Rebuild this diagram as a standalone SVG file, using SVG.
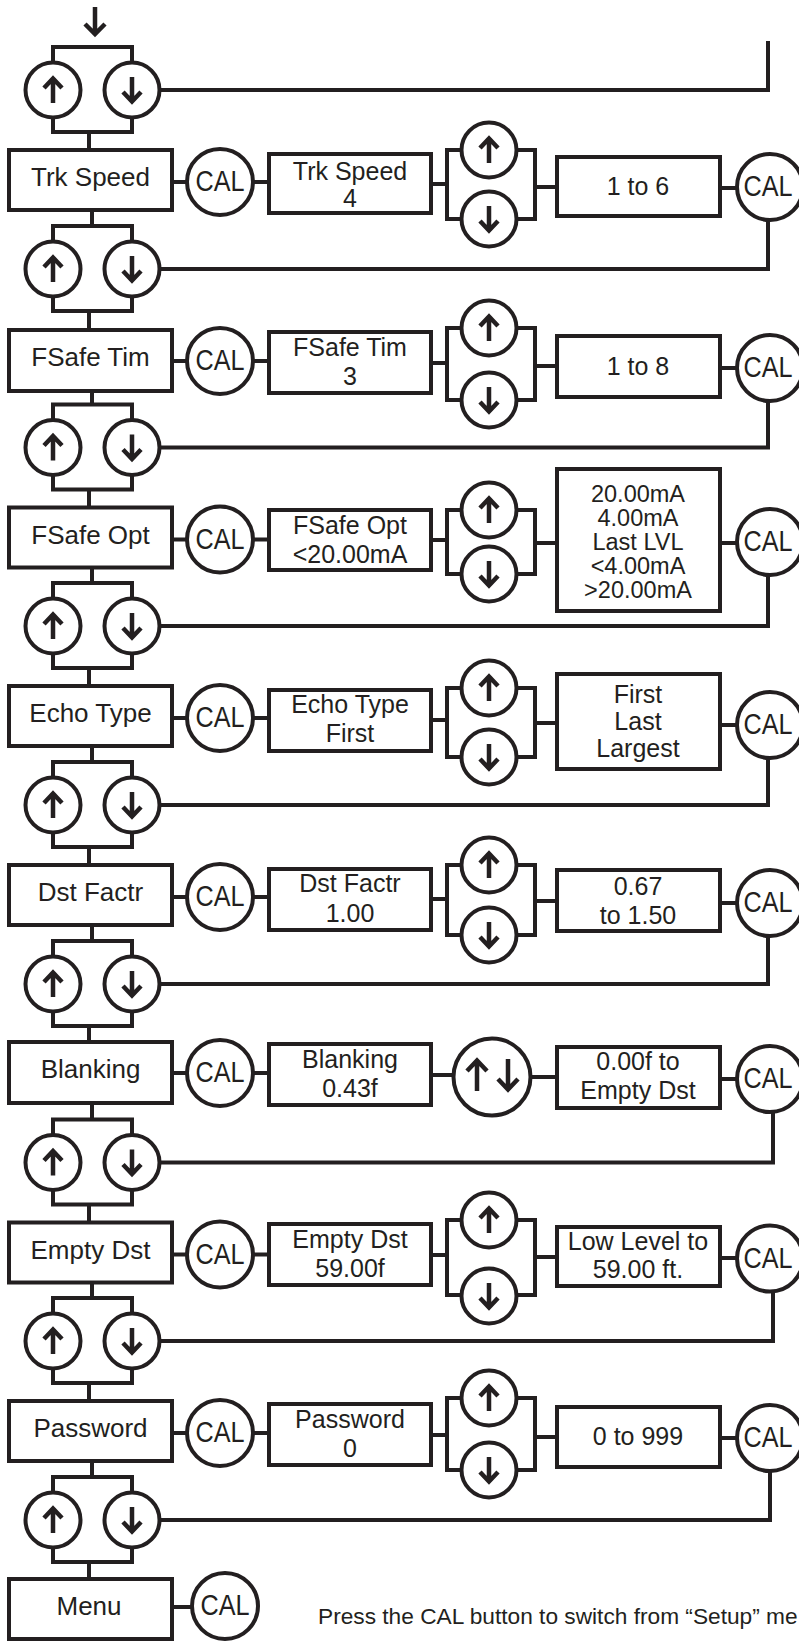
<svg xmlns="http://www.w3.org/2000/svg" width="799" height="1641" viewBox="0 0 799 1641">
<style>
.b{fill:#fff;stroke:#231f20;stroke-width:4}
.ln{fill:none;stroke:#231f20;stroke-width:4}
.ar{fill:none;stroke:#231f20;stroke-width:4.5;stroke-linejoin:miter}
text{font-family:"Liberation Sans",Arial,Helvetica,sans-serif;fill:#231f20;text-anchor:middle}
.lb{font-size:26px}
.vt{font-size:25px}
.rt{font-size:25px}
.rs{font-size:23.5px}
.cal{font-size:29px}
.note{font-size:22.7px;text-anchor:start}
</style>
<defs>
<path id="up" d="M0,13V-10M-9,-2L0,-11.5L9,-2"/>
<path id="dn" d="M0,-13V10M-9,2L0,11.5L9,2"/>
<path id="upL" d="M0,16V-13M-10,-4L0,-14.5L10,-4"/>
<path id="dnL" d="M0,-16V13M-10,4L0,14.5L10,4"/>
</defs>
<rect width="799" height="1641" fill="#fff"/>

<g id="connectors">
<path class="ar" d="M95,7V33M85,24L95,34L105,24"/>
<path class="ln" d="M159.5,90H768V41"/>
<path class="ln" d="M159.5,269H768V220"/>
<path class="ln" d="M159.5,447.5H768V401"/>
<path class="ln" d="M159.5,626H768V575"/>
<path class="ln" d="M159.5,805H768V758"/>
<path class="ln" d="M159.5,984H768V936"/>
<path class="ln" d="M159.5,1162.5H773V1112"/>
<path class="ln" d="M159.5,1341H773V1291.5"/>
<path class="ln" d="M159.5,1520H770V1471"/>
<path class="ln" d="M172,182H187M253,182H269M431,184H447M535,187H557M720,188H737"/>
<path class="ln" d="M172,361H187M253,361H269M431,363H447M535,366H557M720,368H737"/>
<path class="ln" d="M172,539.5H187M253,539.5H269M431,540H447M535,543H557M720,543H737"/>
<path class="ln" d="M172,718H187M253,718H269M431,720H447M535,723H557M720,725H737"/>
<path class="ln" d="M172,897H187M253,897H269M431,899H447M535,901H557M720,903H737"/>
<path class="ln" d="M172,1073H187M253,1073H269M431,1075H453.5M530.5,1077H557M720,1079H737"/>
<path class="ln" d="M172,1254.5H187M253,1254.5H269M431,1255H447M535,1257H557M720,1258H737"/>
<path class="ln" d="M172,1433H187M253,1433H269M431,1435H447M535,1437H557M720,1438H737"/>
<path class="ln" d="M172,1607H192"/>
<path class="ln" d="M92,210V226M92,391V404.5M92,567.5V583M92,746V762M92,925V941M92,1103V1119.5M92,1282.5V1298M92,1461V1477"/>
<path class="ln" d="M89,132V150M89,311V329M89,489.5V507.5M89,668V686M89,847V865M89,1026V1042M89,1204.5V1222.5M89,1383V1401M89,1562V1579"/>
</g>

<g id="pair0">
<path class="ln" d="M53,62.5V47H132V62.5M53,117.5V132H132V117.5"/>
<circle class="b" cx="53" cy="90" r="27.5"/><circle class="b" cx="132" cy="90" r="27.5"/>
<use href="#up" class="ar" x="53" y="90"/><use href="#dn" class="ar" x="132" y="90"/>
</g>
<g id="pair1">
<path class="ln" d="M53,241.5V226H132V241.5M53,296.5V311H132V296.5"/>
<circle class="b" cx="53" cy="269" r="27.5"/><circle class="b" cx="132" cy="269" r="27.5"/>
<use href="#up" class="ar" x="53" y="269"/><use href="#dn" class="ar" x="132" y="269"/>
</g>
<g id="pair2">
<path class="ln" d="M53,420V404.5H132V420M53,475V489.5H132V475"/>
<circle class="b" cx="53" cy="447.5" r="27.5"/><circle class="b" cx="132" cy="447.5" r="27.5"/>
<use href="#up" class="ar" x="53" y="447.5"/><use href="#dn" class="ar" x="132" y="447.5"/>
</g>
<g id="pair3">
<path class="ln" d="M53,598.5V583H132V598.5M53,653.5V668H132V653.5"/>
<circle class="b" cx="53" cy="626" r="27.5"/><circle class="b" cx="132" cy="626" r="27.5"/>
<use href="#up" class="ar" x="53" y="626"/><use href="#dn" class="ar" x="132" y="626"/>
</g>
<g id="pair4">
<path class="ln" d="M53,777.5V762H132V777.5M53,832.5V847H132V832.5"/>
<circle class="b" cx="53" cy="805" r="27.5"/><circle class="b" cx="132" cy="805" r="27.5"/>
<use href="#up" class="ar" x="53" y="805"/><use href="#dn" class="ar" x="132" y="805"/>
</g>
<g id="pair5">
<path class="ln" d="M53,956.5V941H132V956.5M53,1011.5V1026H132V1011.5"/>
<circle class="b" cx="53" cy="984" r="27.5"/><circle class="b" cx="132" cy="984" r="27.5"/>
<use href="#up" class="ar" x="53" y="984"/><use href="#dn" class="ar" x="132" y="984"/>
</g>
<g id="pair6">
<path class="ln" d="M53,1135V1119.5H132V1135M53,1190V1204.5H132V1190"/>
<circle class="b" cx="53" cy="1162.5" r="27.5"/><circle class="b" cx="132" cy="1162.5" r="27.5"/>
<use href="#up" class="ar" x="53" y="1162.5"/><use href="#dn" class="ar" x="132" y="1162.5"/>
</g>
<g id="pair7">
<path class="ln" d="M53,1313.5V1298H132V1313.5M53,1368.5V1383H132V1368.5"/>
<circle class="b" cx="53" cy="1341" r="27.5"/><circle class="b" cx="132" cy="1341" r="27.5"/>
<use href="#up" class="ar" x="53" y="1341"/><use href="#dn" class="ar" x="132" y="1341"/>
</g>
<g id="pair8">
<path class="ln" d="M53,1492.5V1477H132V1492.5M53,1547.5V1562H132V1547.5"/>
<circle class="b" cx="53" cy="1520" r="27.5"/><circle class="b" cx="132" cy="1520" r="27.5"/>
<use href="#up" class="ar" x="53" y="1520"/><use href="#dn" class="ar" x="132" y="1520"/>
</g>

<g id="row0-label"><rect class="b" x="9" y="150" width="163" height="60"/><text class="lb" x="90.5" y="186">Trk Speed</text></g>
<g id="row0-cal"><circle class="b" cx="220" cy="182" r="33"/><text class="cal" x="220" y="191" textLength="49" lengthAdjust="spacingAndGlyphs">CAL</text></g>
<g id="row0-value"><rect class="b" x="269" y="154" width="162" height="59"/><text class="vt" x="350" y="180">Trk Speed</text><text class="vt" x="350" y="207">4</text></g>
<g id="row0-updown"><path class="ln" d="M462,150H447V219H462M516,150H535V219H516"/><circle class="b" cx="489" cy="150" r="27.5"/><circle class="b" cx="489" cy="219" r="27.5"/><use href="#up" class="ar" x="489" y="150"/><use href="#dn" class="ar" x="489" y="219"/></g>
<g id="row0-range"><rect class="b" x="557" y="157" width="163" height="59"/><text class="rt" x="638" y="195">1 to 6</text></g>
<g id="row0-cal2"><circle class="b" cx="770" cy="187" r="33"/><text class="cal" x="768" y="196" textLength="49" lengthAdjust="spacingAndGlyphs">CAL</text></g>

<g id="row1-label"><rect class="b" x="9" y="330" width="163" height="61"/><text class="lb" x="90.5" y="366">FSafe Tim</text></g>
<g id="row1-cal"><circle class="b" cx="220" cy="361" r="33"/><text class="cal" x="220" y="370" textLength="49" lengthAdjust="spacingAndGlyphs">CAL</text></g>
<g id="row1-value"><rect class="b" x="269" y="332" width="162" height="61"/><text class="vt" x="350" y="356">FSafe Tim</text><text class="vt" x="350" y="385">3</text></g>
<g id="row1-updown"><path class="ln" d="M462,328H447V400H462M516,328H535V400H516"/><circle class="b" cx="489" cy="328" r="27.5"/><circle class="b" cx="489" cy="400" r="27.5"/><use href="#up" class="ar" x="489" y="328"/><use href="#dn" class="ar" x="489" y="400"/></g>
<g id="row1-range"><rect class="b" x="557" y="336" width="163" height="61"/><text class="rt" x="638" y="375">1 to 8</text></g>
<g id="row1-cal2"><circle class="b" cx="770" cy="368" r="33"/><text class="cal" x="768" y="377" textLength="49" lengthAdjust="spacingAndGlyphs">CAL</text></g>

<g id="row2-label"><rect class="b" x="9" y="507.5" width="163" height="60"/><text class="lb" x="90.5" y="543.5">FSafe Opt</text></g>
<g id="row2-cal"><circle class="b" cx="220" cy="539.5" r="33"/><text class="cal" x="220" y="548.5" textLength="49" lengthAdjust="spacingAndGlyphs">CAL</text></g>
<g id="row2-value"><rect class="b" x="269" y="510" width="162" height="60"/><text class="vt" x="350" y="534">FSafe Opt</text><text class="vt" x="350" y="563">&lt;20.00mA</text></g>
<g id="row2-updown"><path class="ln" d="M462,510H447V574H462M516,510H535V574H516"/><circle class="b" cx="489" cy="510" r="27.5"/><circle class="b" cx="489" cy="574" r="27.5"/><use href="#up" class="ar" x="489" y="510"/><use href="#dn" class="ar" x="489" y="574"/></g>
<g id="row2-range"><rect class="b" x="557" y="469" width="163" height="142"/><text class="rs" x="638" y="501.5">20.00mA</text><text class="rs" x="638" y="525.5">4.00mA</text><text class="rs" x="638" y="549.5">Last LVL</text><text class="rs" x="638" y="573.5">&lt;4.00mA</text><text class="rs" x="638" y="597.5">&gt;20.00mA</text></g>
<g id="row2-cal2"><circle class="b" cx="770" cy="542" r="33"/><text class="cal" x="768" y="551" textLength="49" lengthAdjust="spacingAndGlyphs">CAL</text></g>

<g id="row3-label"><rect class="b" x="9" y="686" width="163" height="60"/><text class="lb" x="90.5" y="722">Echo Type</text></g>
<g id="row3-cal"><circle class="b" cx="220" cy="718" r="33"/><text class="cal" x="220" y="727" textLength="49" lengthAdjust="spacingAndGlyphs">CAL</text></g>
<g id="row3-value"><rect class="b" x="269" y="690" width="162" height="61"/><text class="vt" x="350" y="713">Echo Type</text><text class="vt" x="350" y="742">First</text></g>
<g id="row3-updown"><path class="ln" d="M462,688H447V757H462M516,688H535V757H516"/><circle class="b" cx="489" cy="688" r="27.5"/><circle class="b" cx="489" cy="757" r="27.5"/><use href="#up" class="ar" x="489" y="688"/><use href="#dn" class="ar" x="489" y="757"/></g>
<g id="row3-range"><rect class="b" x="557" y="674" width="163" height="95"/><text class="rt" x="638" y="703">First</text><text class="rt" x="638" y="730">Last</text><text class="rt" x="638" y="757">Largest</text></g>
<g id="row3-cal2"><circle class="b" cx="770" cy="725" r="33"/><text class="cal" x="768" y="734" textLength="49" lengthAdjust="spacingAndGlyphs">CAL</text></g>

<g id="row4-label"><rect class="b" x="9" y="865" width="163" height="60"/><text class="lb" x="90.5" y="901">Dst Factr</text></g>
<g id="row4-cal"><circle class="b" cx="220" cy="897" r="33"/><text class="cal" x="220" y="906" textLength="49" lengthAdjust="spacingAndGlyphs">CAL</text></g>
<g id="row4-value"><rect class="b" x="269" y="869" width="162" height="61"/><text class="vt" x="350" y="892">Dst Factr</text><text class="vt" x="350" y="922">1.00</text></g>
<g id="row4-updown"><path class="ln" d="M462,865H447V935H462M516,865H535V935H516"/><circle class="b" cx="489" cy="865" r="27.5"/><circle class="b" cx="489" cy="935" r="27.5"/><use href="#up" class="ar" x="489" y="865"/><use href="#dn" class="ar" x="489" y="935"/></g>
<g id="row4-range"><rect class="b" x="557" y="870" width="163" height="61"/><text class="rt" x="638" y="895">0.67</text><text class="rt" x="638" y="924">to 1.50</text></g>
<g id="row4-cal2"><circle class="b" cx="770" cy="903" r="33"/><text class="cal" x="768" y="912" textLength="49" lengthAdjust="spacingAndGlyphs">CAL</text></g>

<g id="row5-label"><rect class="b" x="9" y="1042" width="163" height="61"/><text class="lb" x="90.5" y="1078">Blanking</text></g>
<g id="row5-cal"><circle class="b" cx="220" cy="1073" r="33"/><text class="cal" x="220" y="1082" textLength="49" lengthAdjust="spacingAndGlyphs">CAL</text></g>
<g id="row5-value"><rect class="b" x="269" y="1044" width="162" height="61"/><text class="vt" x="350" y="1068">Blanking</text><text class="vt" x="350" y="1097">0.43f</text></g>
<g id="row5-updown"><circle class="b" cx="492" cy="1077" r="38.5"/><use href="#upL" class="ar" x="477" y="1075"/><use href="#dnL" class="ar" x="508" y="1075"/></g>
<g id="row5-range"><rect class="b" x="557" y="1047" width="163" height="61"/><text class="rt" x="638" y="1070">0.00f to</text><text class="rt" x="638" y="1099">Empty Dst</text></g>
<g id="row5-cal2"><circle class="b" cx="770" cy="1079" r="33"/><text class="cal" x="768" y="1088" textLength="49" lengthAdjust="spacingAndGlyphs">CAL</text></g>

<g id="row6-label"><rect class="b" x="9" y="1222.5" width="163" height="60"/><text class="lb" x="90.5" y="1258.5">Empty Dst</text></g>
<g id="row6-cal"><circle class="b" cx="220" cy="1254.5" r="33"/><text class="cal" x="220" y="1263.5" textLength="49" lengthAdjust="spacingAndGlyphs">CAL</text></g>
<g id="row6-value"><rect class="b" x="269" y="1224" width="162" height="61"/><text class="vt" x="350" y="1248">Empty Dst</text><text class="vt" x="350" y="1277">59.00f</text></g>
<g id="row6-updown"><path class="ln" d="M462,1220H447V1295H462M516,1220H535V1295H516"/><circle class="b" cx="489" cy="1220" r="27.5"/><circle class="b" cx="489" cy="1296" r="27.5"/><use href="#up" class="ar" x="489" y="1220"/><use href="#dn" class="ar" x="489" y="1296"/></g>
<g id="row6-range"><rect class="b" x="557" y="1227" width="163" height="59"/><text class="rt" x="638" y="1250">Low Level to</text><text class="rt" x="638" y="1278">59.00 ft.</text></g>
<g id="row6-cal2"><circle class="b" cx="770" cy="1258.5" r="33"/><text class="cal" x="768" y="1267.5" textLength="49" lengthAdjust="spacingAndGlyphs">CAL</text></g>

<g id="row7-label"><rect class="b" x="9" y="1401" width="163" height="60"/><text class="lb" x="90.5" y="1437">Password</text></g>
<g id="row7-cal"><circle class="b" cx="220" cy="1433" r="33"/><text class="cal" x="220" y="1442" textLength="49" lengthAdjust="spacingAndGlyphs">CAL</text></g>
<g id="row7-value"><rect class="b" x="269" y="1404" width="162" height="61"/><text class="vt" x="350" y="1428">Password</text><text class="vt" x="350" y="1457">0</text></g>
<g id="row7-updown"><path class="ln" d="M462,1398H447V1470H462M516,1398H535V1470H516"/><circle class="b" cx="489" cy="1398" r="27.5"/><circle class="b" cx="489" cy="1470" r="27.5"/><use href="#up" class="ar" x="489" y="1398"/><use href="#dn" class="ar" x="489" y="1470"/></g>
<g id="row7-range"><rect class="b" x="557" y="1407" width="163" height="60"/><text class="rt" x="638" y="1445">0 to 999</text></g>
<g id="row7-cal2"><circle class="b" cx="770" cy="1438" r="33"/><text class="cal" x="768" y="1447" textLength="49" lengthAdjust="spacingAndGlyphs">CAL</text></g>

<g id="row8-menu"><rect class="b" x="9" y="1579" width="163" height="60"/><text class="lb" x="89" y="1615">Menu</text></g>
<g id="row8-cal"><circle class="b" cx="225" cy="1606" r="33"/><text class="cal" x="225" y="1615" textLength="49" lengthAdjust="spacingAndGlyphs">CAL</text></g>
<g id="note"><text class="note" x="318" y="1624">Press the CAL button to switch from “Setup” me</text></g>
</svg>
